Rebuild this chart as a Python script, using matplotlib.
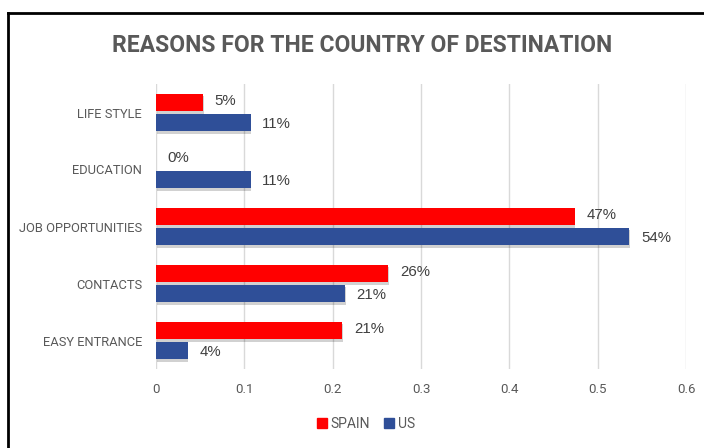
import matplotlib
matplotlib.use("Agg")
import numpy as np
import matplotlib.pyplot as plt
import matplotlib.patheffects as pe
from matplotlib.patches import Patch

categories = ["LIFE STYLE", "EDUCATION", "JOB OPPORTUNITIES", "CONTACTS", "EASY ENTRANCE"]
spain = [0.053, 0.0, 0.474, 0.263, 0.211]
us = [0.107, 0.107, 0.536, 0.214, 0.036]
xticks = [0, 0.1, 0.2, 0.3, 0.4, 0.5, 0.6]
xtick_labels = ["0", "0.1", "0.2", "0.3", "0.4", "0.5", "0.6"]

RED = "#ff0000"
BLUE = "#2f4f98"
GREY = "#595959"
FONT = "Roboto"

fig = plt.figure(figsize=(7.04, 4.48), dpi=100)
ax = fig.add_axes([156 / 704, 1 - 369 / 448, 530 / 704, 285 / 448])

# frame around the chart area (left and top edges only)
fig.add_artist(plt.Line2D([8 / 704, 8 / 704], [0, 1 - 13 / 448], color="black", lw=2,
                          transform=fig.transFigure))
fig.add_artist(plt.Line2D([8 / 704, 1], [1 - 13 / 448, 1 - 13 / 448], color="black", lw=2,
                          transform=fig.transFigure))

y = np.arange(len(categories))[::-1]
h = 0.31
off = 0.175
shadow = [pe.SimplePatchShadow(offset=(0.5, -2), shadow_rgbFace="#000000", alpha=0.18), pe.Normal()]

b1 = ax.barh(y + off, spain, height=h, color=RED, zorder=3)
b2 = ax.barh(y - off, us, height=h, color=BLUE, zorder=3)
for bar in list(b1) + list(b2):
    bar.set_path_effects(shadow)

for yy, v in zip(y + off, spain):
    ax.text(v + 0.013, yy + 0.03, "{:.0%}".format(v), va="center", ha="left",
            fontsize=10.8, color="#404040", family="Liberation Sans")
for yy, v in zip(y - off, us):
    ax.text(v + 0.013, yy - 0.03, "{:.0%}".format(v), va="center", ha="left",
            fontsize=10.8, color="#404040", family="Liberation Sans")

ax.set_xlim(0, 0.6)
ax.set_ylim(-0.5, 4.5)
ax.set_xticks(xticks)
ax.set_xticklabels(xtick_labels, family=FONT, fontsize=9.5, color=GREY)
ax.set_yticks(y)
ax.set_yticklabels(categories, family=FONT, fontsize=9.3, color=GREY)
ax.tick_params(axis="both", length=0)
ax.tick_params(axis="x", pad=10)
ax.tick_params(axis="y", pad=10)
ax.grid(axis="x", color="#d9d9d9", lw=1, zorder=0)
ax.set_axisbelow(True)
for s in ax.spines.values():
    s.set_visible(False)

fig.text(362 / 704, 1 - 46 / 448, "REASONS FOR THE COUNTRY OF DESTINATION", ha="center", va="center",
         fontsize=16.5, fontweight="bold", color=GREY, family=FONT)

handles = [Patch(color=RED, label="SPAIN"), Patch(color=BLUE, label="US")]
fig.legend(handles=handles, loc="center", bbox_to_anchor=(366 / 704, 1 - 424 / 448), ncol=2,
           frameon=False, handlelength=0.7, handleheight=0.7, handletextpad=0.3, columnspacing=1.0,
           prop={"family": FONT, "size": 10}, labelcolor=GREY)

fig.savefig("out.png", dpi=100)
